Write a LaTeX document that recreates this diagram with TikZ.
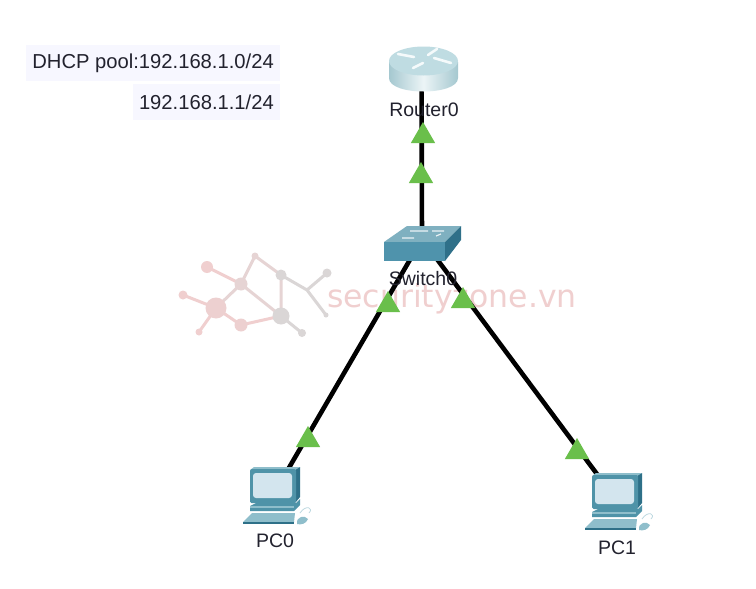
\documentclass[tikz,border=0pt]{standalone}
\usepackage{fontspec}
\setmainfont{Liberation Sans}
\newfontfamily\wmfont{DejaVu Sans}
\usetikzlibrary{shapes.geometric}
\definecolor{linkgreen}{HTML}{6ABF4B}
\definecolor{labelbg}{HTML}{F7F7FF}
\definecolor{labeltxt}{HTML}{22222E}
\definecolor{wmpink}{HTML}{F0CFCF}
\definecolor{wmred}{HTML}{EDD0D0}
\definecolor{wmmid}{HTML}{E6D4D4}
\definecolor{wmgray}{HTML}{DAD6D6}
\definecolor{swtop}{HTML}{7FB0C0}
\definecolor{swfront}{HTML}{4F93AC}
\definecolor{swside}{HTML}{2F7089}
\definecolor{pcdark}{HTML}{4F93A8}
\definecolor{pcside}{HTML}{2E7088}
\definecolor{pcscreen}{HTML}{D3E5EE}
\definecolor{pclight}{HTML}{8FBECB}
\definecolor{rttop}{HTML}{BFDCE2}
\definecolor{rtedge}{HTML}{A5C8D0}
\tikzset{
  x=1pt,y=-1pt,
  devlabel/.style={font=\fontsize{19.5}{22}\selectfont,text=labeltxt,inner sep=0pt},
  noteline/.style={font=\fontsize{20.2}{22}\selectfont,text=labeltxt,fill=labelbg,inner sep=0pt,anchor=east,minimum height=36},
  linkline/.style={line width=4.6pt,black},
  porttri/.style={regular polygon,regular polygon sides=3,fill=linkgreen,inner sep=0pt,minimum size=28},
  devbox/.style={inner sep=0pt,minimum size=0pt},
  wmedge/.style={line width=3pt},
}
\newcommand{\wmdot}[4]{\fill[#4] (#1,#2) circle (#3);}
\newcommand{\pcicon}[2]{%
\begin{scope}[shift={(#1,#2)}]
  \fill[pcside] (295,469) -- (300,467) -- (300,497) -- (295,503) -- cycle;
  \fill[pclight] (250,470) -- (254,467) -- (300,467) -- (295,470) -- cycle;
  \fill[pcdark,rounded corners=1.5pt] (250,469) rectangle (296,503);
  \fill[pcscreen,rounded corners=3pt] (253,473) rectangle (292,498);
  \fill[pcdark] (256,503) -- (296,503) -- (300,499) -- (300,505) -- (294,511) -- (250,511) -- (250,506) -- cycle;
  \fill[pclight] (250,505.5) rectangle (294,507.5);
  \fill[pclight] (252,513) -- (295,513) -- (294,522) -- (243,522) -- cycle;
  \fill[pcside] (243,522) -- (294,522) -- (294,524) -- (243,524) -- cycle;
  \fill[pclight] (297,524) .. controls (296,516) and (305,515) .. (308,519) .. controls (306,524) and (301,525) .. cycle;
  \draw[pclight!60,line width=.8pt] (300,513) .. controls (306,504) and (314,508) .. (309,513);
\end{scope}}
\begin{document}
\begin{tikzpicture}
\useasboundingbox (0,0) rectangle (756,589);
\fill[white] (0,0) rectangle (756,589);
% watermark
\draw[wmedge,wmmid] (216,308) -- (241,284) -- (281,316) (241,284) -- (255,256) -- (281,275) -- (281,316);
\draw[wmedge,wmpink] (216,308) -- (241,325) -- (281,316) (216,308) -- (183,295) (216,308) -- (199,332) (207,267) -- (241,284);
\draw[wmedge,wmgray] (281,275) -- (307,290) -- (327,273) (307,290) -- (326,315) (281,316) -- (302,333);
\wmdot{216}{308}{10.5}{wmred}
\wmdot{241}{325}{6.5}{wmred}
\wmdot{241}{284}{6.5}{wmmid}
\wmdot{207}{267}{6}{wmpink}
\wmdot{183}{295}{4.5}{wmpink}
\wmdot{199}{332}{3.5}{wmpink}
\wmdot{255}{256}{3.5}{wmmid}
\wmdot{281}{275}{5.5}{wmgray}
\wmdot{281}{316}{8.5}{wmgray}
\wmdot{302}{333}{4}{wmgray}
\wmdot{327}{273}{4.5}{wmgray}
\wmdot{326}{315}{2.5}{wmgray}
\node[font=\wmfont\fontsize{31.5}{34}\selectfont,text=wmpink,inner sep=0pt,anchor=base west] at (327,307) {securityzone.vn};
% device anchors
\node[devbox] (router) at (421.5,68) {};
\node[devbox] (switch) at (422,239) {};
\node[devbox] (pc0) at (272,497) {};
\node[devbox] (pc1) at (620,505) {};
% links
\draw[linkline] (router.center) -- (switch.center);
\draw[linkline] (switch.center) -- (pc0.center);
\draw[linkline] (switch.center) -- (pc1.center);
% port triangles
\node[porttri] (t1) at (423,136) {};
\node[porttri] (t2) at (421,176) {};
\node[porttri] (t3) at (388,305) {};
\node[porttri] (t4) at (308,440) {};
\node[porttri] (t5) at (463,301) {};
\node[porttri] (t6) at (577,452) {};
% router icon
\path[left color=rtedge,right color=rtedge,middle color=white!70!rttop] (389,62) -- (389,78) .. controls (389,96) and (458,96) .. (458,78) -- (458,62) -- cycle;
\fill[rttop] (423.5,61) ellipse (34.5 and 14.5);
\draw[white!85!rttop,line width=2.6pt,line cap=round]
  (398,54) -- (414,57) (428,55) -- (437,49) (413,68) -- (423,63) (434,58) -- (451,63);
% switch icon
\fill[swtop] (384,242) -- (407,226) -- (461,226) -- (445,242) -- cycle;
\fill[swfront] (384,242) rectangle (445,261);
\fill[swside] (445,242) -- (461,226) -- (461,240) -- (445,261) -- cycle;
\draw[white!85!swtop,line width=1.2pt] (410,231) -- (428,231) (432,231) -- (444,231) (402,238) -- (414,238) (436,236) -- (441,234);
% PCs
\pcicon{0}{0}
\pcicon{342}{6}
% labels
\node[devlabel] (lr) at (424,110) {Router0};
\node[devlabel] (ls) at (423,279) {Switch0};
\node[devlabel] (lp0) at (275,541) {PC0};
\node[devlabel] (lp1) at (617,548) {PC1};
% DHCP note
\node[noteline,minimum width=254] (n1) at (280,63) {\makebox[254pt][r]{DHCP pool:192.168.1.0/24\hspace{6pt}}};
\node[noteline,minimum width=147] (n2) at (280,102) {\makebox[147pt][r]{192.168.1.1/24\hspace{6pt}}};
\end{tikzpicture}
\end{document}
